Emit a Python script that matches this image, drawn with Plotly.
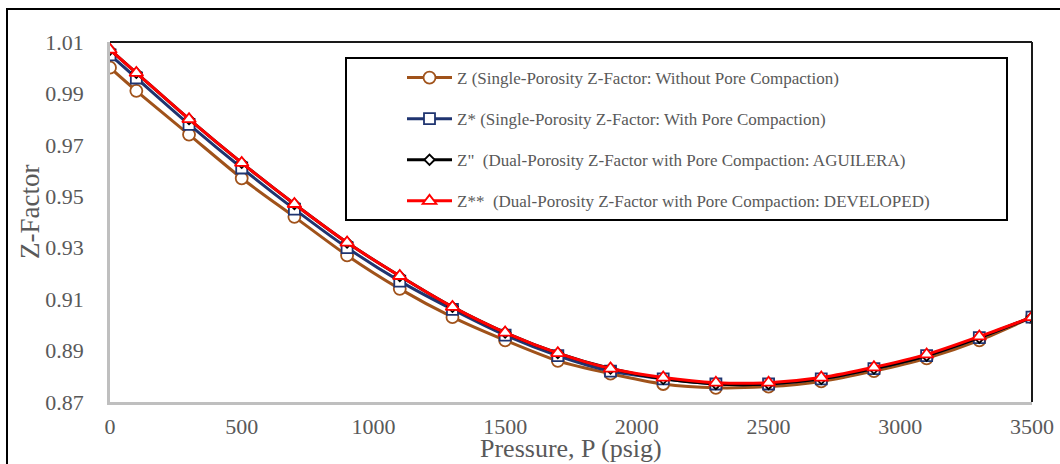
import plotly.graph_objects as go

pressure = [0, 100, 300, 500, 700, 900, 1100, 1300, 1500, 1700, 1900, 2100, 2300, 2500, 2700, 2900, 3100, 3300, 3500]
z_single = [1.000, 0.991, 0.974, 0.957, 0.942, 0.927, 0.914, 0.903, 0.894, 0.886, 0.881, 0.877, 0.8755, 0.876, 0.878, 0.882, 0.887, 0.894, 0.903]
z_star = [1.005, 0.996, 0.978, 0.961, 0.945, 0.930, 0.917, 0.906, 0.896, 0.888, 0.882, 0.879, 0.877, 0.877, 0.879, 0.883, 0.888, 0.895, 0.903]
z_dual = [1.007, 0.998, 0.980, 0.963, 0.947, 0.932, 0.919, 0.907, 0.897, 0.889, 0.883, 0.879, 0.877, 0.877, 0.879, 0.883, 0.888, 0.895, 0.903]
z_dev = [1.007, 0.998, 0.980, 0.963, 0.947, 0.932, 0.919, 0.907, 0.897, 0.889, 0.883, 0.8795, 0.8775, 0.8775, 0.8795, 0.8835, 0.8885, 0.8955, 0.903]

names = [
    "Z (Single-Porosity Z-Factor: Without Pore Compaction)",
    "Z* (Single-Porosity Z-Factor: With Pore Compaction)",
    "Z\"  (Dual-Porosity Z-Factor with Pore Compaction: AGUILERA)",
    "Z**  (Dual-Porosity Z-Factor with Pore Compaction: DEVELOPED)",
]
x_title = "Pressure, P (psig)"
y_title = "Z-Factor"
series = [z_single, z_star, z_dual, z_dev]
colors = ["#A0521A", "#1F3470", "#000000", "#FF0000"]
symbols = ["circle", "square", "diamond", "triangle-up"]
msizes = [12, 11, 8, 12]

fig = go.Figure()
for i, (nm, ys, c, s, ms) in enumerate(zip(names, series, colors, symbols, msizes)):
    fig.add_trace(go.Scatter(
        x=pressure, y=ys, name=nm, mode="lines+markers",
        line=dict(color=c, width=3, shape="spline", smoothing=0.8),
        marker=dict(symbol=s, size=ms, color="white", line=dict(color=c, width=1.8)),
        legendgroup="g%d" % i,
    ))

W, H = 1060, 464
L, T = 110, 42
pw, ph = 922, 360
R = W - L - pw
B = H - T - ph

def px(x):
    return (x - L) / pw

def py(y):
    return (T + ph - y) / ph

shapes = [
    # outer chart border
    dict(type="rect", xref="paper", yref="paper", x0=px(7), x1=px(1075), y0=py(480), y1=py(9),
         line=dict(color="black", width=2), layer="below"),
    # plot area top and right border
    dict(type="line", xref="paper", yref="paper", x0=0, x1=1, y0=1, y1=1, line=dict(color="#1a1a1a", width=2)),
    dict(type="line", xref="paper", yref="paper", x0=1, x1=1, y0=0, y1=1, line=dict(color="#1a1a1a", width=2)),
    # legend box
    dict(type="rect", xref="paper", yref="paper", x0=px(346), x1=px(1007), y0=py(220), y1=py(58),
         line=dict(color="black", width=2), fillcolor="white", layer="below"),
]

annotations = [
    dict(text=x_title, xref="paper", yref="paper", x=0.5, y=py(448), xanchor="center", yanchor="middle",
         showarrow=False, font=dict(family="Liberation Serif", size=26, color="#595959")),
    dict(text=y_title, xref="paper", yref="paper", x=px(30), y=py(212), xanchor="center", yanchor="middle",
         textangle=-90, showarrow=False, font=dict(family="Liberation Serif", size=27, color="#595959")),
]

fig.update_layout(
    width=W, height=H,
    margin=dict(l=L, r=R, t=T, b=B, autoexpand=False),
    paper_bgcolor="white", plot_bgcolor="white",
    font=dict(family="Liberation Serif", color="#595959"),
    showlegend=True,
    legend=dict(
        x=px(402), y=py(60), xanchor="left", yanchor="top",
        bgcolor="rgba(0,0,0,0)", borderwidth=0,
        font=dict(family="Liberation Serif", size=17, color="#595959"),
        traceorder="grouped", tracegroupgap=16, itemwidth=45,
    ),
    shapes=shapes,
    annotations=annotations,
    xaxis=dict(
        range=[0, 3500], tickvals=[0, 500, 1000, 1500, 2000, 2500, 3000, 3500],
        showgrid=False, zeroline=False, showline=True, linecolor="#BFBFBF", linewidth=2.5,
        ticks="", tickfont=dict(family="Liberation Serif", size=22, color="#595959"),
        ticklabelstandoff=3, automargin=False,
    ),
    yaxis=dict(
        range=[0.87, 1.01], tickvals=[0.87, 0.89, 0.91, 0.93, 0.95, 0.97, 0.99, 1.01],
        ticktext=["0.87", "0.89", "0.91", "0.93", "0.95", "0.97", "0.99", "1.01"],
        showgrid=False, zeroline=False, showline=True, linecolor="#BFBFBF", linewidth=2.5,
        ticks="", tickfont=dict(family="Liberation Serif", size=22, color="#595959"),
        ticklabelstandoff=19, automargin=False,
    ),
)

fig.write_html("out.html")
